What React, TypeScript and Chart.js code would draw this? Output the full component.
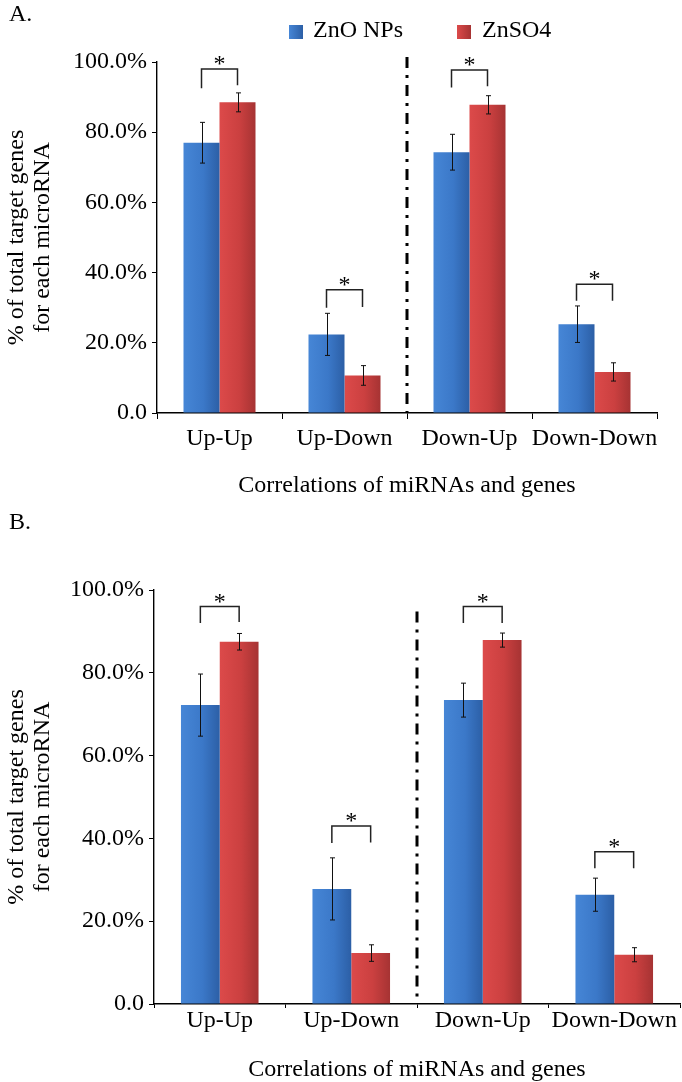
import React, { useEffect, useRef } from 'react';
import { Chart, registerables } from 'chart.js';

Chart.register(...registerables);

// ---------- data ----------
const categories = ['Up-Up', 'Up-Down', 'Down-Up', 'Down-Down'];
const seriesNames = ['ZnO NPs', 'ZnSO4'];
const yTicks = [0, 20, 40, 60, 80, 100];
const yTickLabels = ['0.0', '20.0%', '40.0%', '60.0%', '80.0%', '100.0%'];
const xTitle = 'Correlations of miRNAs and genes';
const yTitle = ['% of total target genes', 'for each microRNA'];

// Panel A
const aZnO = [77.0, 22.4, 74.3, 25.3];
const aZnOErr = [5.8, 6.0, 5.1, 5.2];
const aZnSO4 = [88.5, 10.7, 87.8, 11.7];
const aZnSO4Err = [2.7, 2.8, 2.6, 2.6];
const aBracketTop = [98.0, 35.1, 97.7, 36.7];
const aBracketLegL = [92.5, 30.0, 92.7, 32.0];
const aBracketLegR = [93.4, 30.2, 93.1, 32.0];
const aSeparatorTop = 101.4;

// Panel B
const bZnO = [72.2, 27.8, 73.4, 26.4];
const bZnOErr = [7.5, 7.5, 4.1, 4.0];
const bZnSO4 = [87.5, 12.3, 87.9, 11.9];
const bZnSO4Err = [2.0, 2.0, 1.7, 1.7];
const bBracketTop = [96.0, 43.0, 96.0, 36.8];
const bBracketLegL = [92.0, 38.9, 92.0, 32.8];
const bBracketLegR = [92.3, 39.0, 92.0, 32.8];
const bSeparatorTop = 94.8;

// ---------- styles ----------
const FONT = '"Liberation Serif", "Times New Roman", Times, serif';
const BLUE_STOPS = ['#4686D6', '#3B78C8', '#2C5FA6'];
const RED_STOPS = ['#DC4A4A', '#CB4040', '#A63333'];
const COLORS = [BLUE_STOPS, RED_STOPS];

type PanelCfg = {
  label: string;
  height: number;
  showLegend: boolean;
  series: number[][];
  errs: number[][];
  bracketTop: number[];
  bracketLegL: number[];
  bracketLegR: number[];
  separatorTop: number;
  padTop: number;
  padRight: number;
  yWidth: number;
  xHeight: number;
  catPct: number;
  xTickLen: number;
  xTickPad: number;
  xTitlePad: number;
  labelY: number;
};

function barGradient(stops: string[], side: number, catPct: number) {
  return (ctx: any) => {
    const chart = ctx.chart;
    const xs = chart.scales && chart.scales.x;
    if (!xs || !chart.chartArea || ctx.dataIndex === undefined || !isFinite(xs.left)) return stops[1];
    const catW = (xs.right - xs.left) / categories.length;
    const groupW = catW * catPct;
    const cx = xs.getPixelForValue(ctx.dataIndex);
    const left = side === 0 ? cx - groupW / 2 : cx;
    const right = left + groupW / 2;
    const g = chart.ctx.createLinearGradient(left, 0, right, 0);
    g.addColorStop(0, stops[0]);
    g.addColorStop(0.55, stops[1]);
    g.addColorStop(1, stops[2]);
    return g;
  };
}

function makeAnnotPlugin(cfg: PanelCfg) {
  return {
    id: 'annot' + cfg.label,
    afterDatasetsDraw(chart: any) {
      const ctx = chart.ctx;
      const xs = chart.scales.x;
      const ys = chart.scales.y;
      ctx.save();
      // error bars
      ctx.strokeStyle = '#111';
      ctx.lineWidth = 1;
      for (let d = 0; d < cfg.series.length; d++) {
        const meta = chart.getDatasetMeta(d);
        meta.data.forEach((el: any, i: number) => {
          const v = cfg.series[d][i];
          const e = cfg.errs[d][i];
          const y1 = ys.getPixelForValue(v + e);
          const y2 = ys.getPixelForValue(v - e);
          const x = Math.round(el.x) + 0.5;
          ctx.beginPath();
          ctx.moveTo(x, y1);
          ctx.lineTo(x, y2);
          ctx.moveTo(x - 2.5, y1);
          ctx.lineTo(x + 2.5, y1);
          ctx.moveTo(x - 2.5, y2);
          ctx.lineTo(x + 2.5, y2);
          ctx.stroke();
        });
      }
      // significance brackets
      const m0 = chart.getDatasetMeta(0);
      const m1 = chart.getDatasetMeta(1);
      ctx.strokeStyle = '#222';
      ctx.lineWidth = 1.5;
      ctx.fillStyle = '#000';
      ctx.font = '24px ' + FONT;
      ctx.textAlign = 'center';
      ctx.textBaseline = 'alphabetic';
      for (let i = 0; i < categories.length; i++) {
        const xL = m0.data[i].x;
        const xR = m1.data[i].x;
        const yT = ys.getPixelForValue(cfg.bracketTop[i]);
        ctx.beginPath();
        ctx.moveTo(xL, ys.getPixelForValue(cfg.bracketLegL[i]));
        ctx.lineTo(xL, yT);
        ctx.lineTo(xR, yT);
        ctx.lineTo(xR, ys.getPixelForValue(cfg.bracketLegR[i]));
        ctx.stroke();
        ctx.fillText('*', (xL + xR) / 2, yT + 2);
      }
      // separator dash-dot line
      const sx = (xs.getPixelForValue(1) + xs.getPixelForValue(2)) / 2;
      ctx.strokeStyle = '#000';
      ctx.lineWidth = 3;
      ctx.setLineDash([11, 7, 3, 7]);
      ctx.beginPath();
      ctx.moveTo(sx, ys.getPixelForValue(cfg.separatorTop));
      ctx.lineTo(sx, ys.getPixelForValue(0));
      ctx.stroke();
      ctx.setLineDash([]);
      ctx.restore();
    },
    afterDraw(chart: any) {
      const ctx = chart.ctx;
      ctx.save();
      ctx.fillStyle = '#000';
      ctx.font = '24px ' + FONT;
      ctx.textAlign = 'left';
      ctx.textBaseline = 'middle';
      ctx.fillText(cfg.label, 9, cfg.labelY);
      if (cfg.showLegend) {
        const items = [
          { box: 289, text: 313 },
          { box: 457, text: 482 },
        ];
        chart.data.datasets.forEach((ds: any, i: number) => {
          const it = items[i];
          const g = ctx.createLinearGradient(it.box, 0, it.box + 14, 0);
          g.addColorStop(0, COLORS[i][0]);
          g.addColorStop(1, COLORS[i][2]);
          ctx.fillStyle = g;
          ctx.fillRect(it.box, 25, 14, 14);
          ctx.fillStyle = '#000';
          ctx.fillText(ds.label, it.text, 31);
        });
      }
      ctx.restore();
    },
  };
}

function Panel({ cfg }: { cfg: PanelCfg }) {
  const ref = useRef<HTMLCanvasElement>(null);
  useEffect(() => {
    let chart: any = null;
    let cancelled = false;
    const build = () => {
      if (cancelled || !ref.current) return;
      const tickFont = { family: FONT, size: 24, lineHeight: 1 };
      chart = new Chart(ref.current as HTMLCanvasElement, {
        type: 'bar',
        data: {
          labels: categories,
          datasets: cfg.series.map((vals, d) => ({
            label: seriesNames[d],
            data: vals,
            backgroundColor: barGradient(COLORS[d], d, cfg.catPct) as any,
            borderWidth: 0,
            categoryPercentage: cfg.catPct,
            barPercentage: 1.0,
          })),
        },
        options: {
          responsive: false,
          animation: false,
          layout: { padding: { top: cfg.padTop, right: cfg.padRight, bottom: 0, left: 0 } },
          plugins: {
            legend: { display: false },
            tooltip: { enabled: false },
            title: { display: false },
          },
          scales: {
            x: {
              type: 'category',
              offset: true,
              grid: {
                display: true,
                drawOnChartArea: false,
                drawTicks: true,
                tickLength: cfg.xTickLen,
                color: '#000',
                lineWidth: 1,
                offset: true,
              },
              border: { display: true, color: '#000', width: 1.4 },
              ticks: {
                color: '#000',
                font: tickFont,
                padding: cfg.xTickPad,
                maxRotation: 0,
                minRotation: 0,
                autoSkip: false,
              },
              title: {
                display: true,
                text: xTitle,
                color: '#000',
                font: tickFont,
                padding: { top: 0, bottom: cfg.xTitlePad },
              },
              afterFit: (s: any) => {
                s.height = cfg.xHeight;
              },
            },
            y: {
              min: 0,
              max: 100,
              afterBuildTicks: (s: any) => {
                s.ticks = yTicks.map((v) => ({ value: v }));
              },
              ticks: {
                color: '#000',
                font: tickFont,
                padding: 5,
                callback: (v: any) => yTickLabels[yTicks.indexOf(Number(v))],
              },
              grid: {
                display: true,
                drawOnChartArea: false,
                drawTicks: true,
                tickLength: 5,
                color: '#000',
              },
              border: { display: true, color: '#000', width: 1.4 },
              title: {
                display: true,
                text: yTitle,
                color: '#000',
                font: { family: FONT, size: 24, lineHeight: 1.05 },
                padding: { top: 4.5, bottom: 0 },
              },
              afterFit: (s: any) => {
                s.width = cfg.yWidth;
              },
            },
          },
        } as any,
        plugins: [makeAnnotPlugin(cfg)],
      });
    };
    const fonts: any = (document as any).fonts;
    if (fonts && fonts.load) {
      Promise.all([
        fonts.load('24px "Liberation Serif"'),
        fonts.load('24px "Times New Roman"'),
      ]).then(build, build);
    } else {
      build();
    }
    return () => {
      cancelled = true;
      if (chart) chart.destroy();
    };
  }, [cfg]);
  return <canvas ref={ref} width={682} height={cfg.height} style={{ display: 'block' }} />;
}

const panelA: PanelCfg = {
  label: 'A.',
  height: 505,
  showLegend: true,
  series: [aZnO, aZnSO4],
  errs: [aZnOErr, aZnSO4Err],
  bracketTop: aBracketTop,
  bracketLegL: aBracketLegL,
  bracketLegR: aBracketLegR,
  separatorTop: aSeparatorTop,
  padTop: 62,
  padRight: 25,
  yWidth: 157,
  xHeight: 92,
  catPct: 0.576,
  xTickLen: 6,
  xTickPad: 8,
  xTitlePad: 7,
  labelY: 15,
};

const panelB: PanelCfg = {
  label: 'B.',
  height: 577,
  showLegend: false,
  series: [bZnO, bZnSO4],
  errs: [bZnOErr, bZnSO4Err],
  bracketTop: bBracketTop,
  bracketLegL: bBracketLegL,
  bracketLegR: bBracketLegR,
  separatorTop: bSeparatorTop,
  padTop: 85,
  padRight: 2,
  yWidth: 154,
  xHeight: 78,
  catPct: 0.59,
  xTickLen: 4,
  xTickPad: 1,
  xTitlePad: 0,
  labelY: 18,
};

export default function App() {
  useEffect(() => {
    document.body.style.margin = '0';
  }, []);
  return (
    <div style={{ width: 682, background: '#fff' }}>
      <Panel cfg={panelA} />
      <Panel cfg={panelB} />
    </div>
  );
}
